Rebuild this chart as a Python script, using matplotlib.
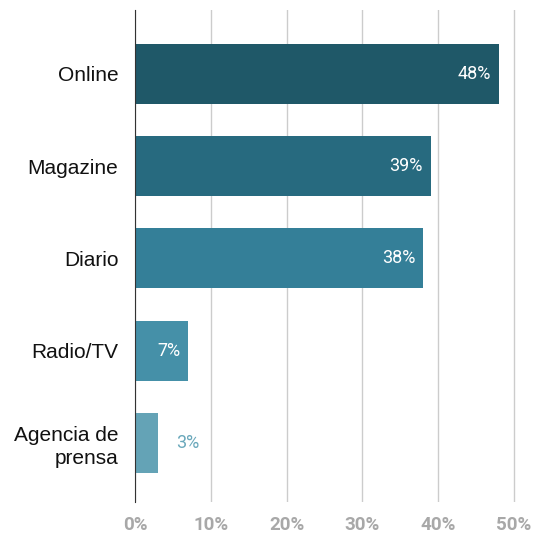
import matplotlib.pyplot as plt

# Datos
categorias = ["Online", "Magazine", "Diario", "Radio/TV", "Agencia de\nprensa"]
valores = [48, 39, 38, 7, 3]
colores = ["#1f5868", "#276a7f", "#347f98", "#4590a8", "#64a3b6"]
ticks = [0, 10, 20, 30, 40, 50]

fig = plt.figure(figsize=(5.33, 5.38), dpi=100)
ax = fig.add_axes([135 / 533, 36 / 538, 385 / 533, 492 / 538])

pos = list(range(len(categorias)))
ax.barh(pos, valores, height=0.65, color=colores, zorder=3)

for i, v in enumerate(valores):
    if v >= 5:
        ax.text(v - 1.0, i, f"{v}%", ha="right", va="center", color="white",
                fontsize=13, family="Roboto", zorder=4)
    else:
        ax.text(v + 2.4, i, f"{v}%", ha="left", va="center", color="#6aa8bb",
                fontsize=13, family="Roboto", zorder=4)

ax.set_xlim(0, 50.8)
ax.set_ylim(4.64, -0.69)
ax.set_xticks(ticks)
ax.set_xticklabels([f"{t}%" for t in ticks], color="#a8a8a8", fontsize=13.5,
                   fontweight="bold", family="Roboto")
ax.set_yticks(pos)
ax.set_yticklabels(categorias, fontsize=15, color="#111111",
                   family="Liberation Sans", multialignment="right",
                   linespacing=1.3)
ax.tick_params(length=0)
ax.tick_params(axis="x", pad=10)
ax.tick_params(axis="y", pad=12)
ax.grid(axis="x", color="#cccccc", lw=1, zorder=0)
for s in ["top", "right", "bottom"]:
    ax.spines[s].set_visible(False)
ax.spines["left"].set_color("#333333")
ax.spines["left"].set_zorder(5)

plt.savefig("out.png", dpi=100)
